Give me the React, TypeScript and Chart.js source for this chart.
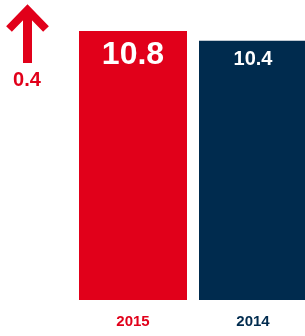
import React, { useEffect, useRef } from "react";
import { Chart, registerables } from "chart.js";

Chart.register(...registerables);

const categories = ["2015", "2014"];
const values = [10.8, 10.4];
const valueLabels = ["10.8", "10.4"];
const changeLabel = "0.4";
const barColors = ["#E1001A", "#002B4E"];
const labelSizes = [32, 20];

const FONT = '"Liberation Sans", Arial, sans-serif';

const overlayPlugin = {
  id: "overlay",
  afterDatasetsDraw(chart: any) {
    const ctx = chart.ctx;
    const meta = chart.getDatasetMeta(0);
    const xScale = chart.scales.x;
    ctx.save();
    ctx.textAlign = "center";
    ctx.textBaseline = "middle";
    meta.data.forEach((bar: any, i: number) => {
      ctx.fillStyle = "#ffffff";
      ctx.font = `bold ${labelSizes[i]}px ${FONT}`;
      const offset = i === 0 ? 24 : 19;
      ctx.fillText(valueLabels[i], bar.x, bar.y + offset);
      ctx.fillStyle = barColors[i];
      ctx.font = `bold 15px ${FONT}`;
      ctx.fillText(categories[i], xScale.getPixelForValue(i), chart.chartArea.bottom + 22);
    });
    // up arrow
    ctx.fillStyle = barColors[0];
    ctx.strokeStyle = barColors[0];
    ctx.lineWidth = 8;
    ctx.lineJoin = "miter";
    ctx.lineCap = "butt";
    ctx.beginPath();
    ctx.moveTo(9, 29);
    ctx.lineTo(27.5, 10);
    ctx.lineTo(46, 29);
    ctx.stroke();
    ctx.fillRect(23, 10, 9, 53);
    ctx.font = `bold 20px ${FONT}`;
    ctx.fillText(changeLabel, 27, 80);
    ctx.restore();
  },
};

export default function App() {
  const ref = useRef<HTMLCanvasElement>(null);
  useEffect(() => {
    document.body.style.margin = "0";
    const chart = new Chart(ref.current!, {
      type: "bar",
      data: {
        labels: categories,
        datasets: [
          {
            data: values,
            backgroundColor: barColors,
            borderWidth: 0,
            barPercentage: 0.9,
            categoryPercentage: 1,
          },
        ],
      },
      options: {
        responsive: false,
        animation: false,
        layout: { padding: { left: 73, right: 0, top: 1, bottom: 36 } },
        plugins: { legend: { display: false }, tooltip: { enabled: false } },
        scales: {
          x: { display: false },
          y: { display: false, min: 0, max: 12 },
        },
      },
      plugins: [overlayPlugin],
    });
    return () => chart.destroy();
  }, []);
  return (
    <div style={{ position: "fixed", left: 0, top: 0, width: 305, height: 336, overflow: "hidden" }}>
      <canvas ref={ref} width={313} height={336} style={{ display: "block", width: 313, height: 336 }} />
    </div>
  );
}
